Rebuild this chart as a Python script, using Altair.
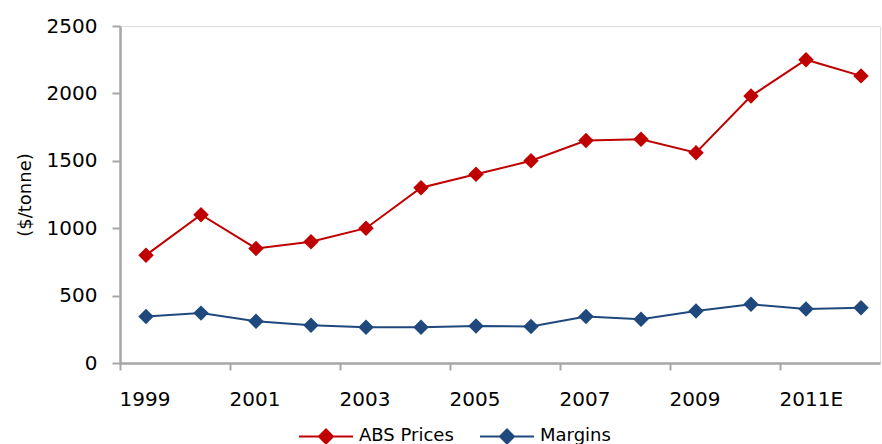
import json
import altair as alt
import pandas as pd

# Years on the category axis (14 points, the last two estimates)
years = ["1999", "2000", "2001", "2002", "2003", "2004", "2005",
         "2006", "2007", "2008", "2009", "2010", "2011E", "2012E"]
tick_labels = ["1999", "2001", "2003", "2005", "2007", "2009", "2011E"]

abs_prices = [800, 1100, 850, 900, 1000, 1300, 1400,
              1500, 1650, 1660, 1560, 1980, 2250, 2130]
margins = [345, 370, 310, 280, 265, 265, 275,
           270, 345, 325, 385, 435, 400, 410]

series_names = ["ABS Prices", "Margins"]
series_colors = ["#C00000", "#1F497D"]

rows = []
for i, y in enumerate(years):
    rows.append({"idx": i, "year": y, "series": series_names[0], "value": abs_prices[i]})
    rows.append({"idx": i, "year": y, "series": series_names[1], "value": margins[i]})
df = pd.DataFrame(rows)

W, H = 760, 337
STEP = 55.0                      # pixels per year
X_MIN = -26.0 / STEP             # first tick sits a little left of the first point
X_MAX = X_MIN + W / STEP
tick_values = [X_MIN + 2 * k for k in range(len(tick_labels))]
label_expr = f"{json.dumps(tick_labels)}[round((datum.value - ({X_MIN}))/2)]"

FONT = "DejaVu Sans"
AXIS_GREY = "#A6A6A6"

x_enc = alt.X(
    "idx:Q",
    scale=alt.Scale(domain=[X_MIN, X_MAX], nice=False, zero=False),
    axis=alt.Axis(
        values=tick_values, labelExpr=label_expr, title=None, grid=False,
        labelAlign="left", labelBaseline="top", labelPadding=19,
        labelFontSize=20, labelFont=FONT, labelColor="#000000", labelOffset=-1,
        domainColor=AXIS_GREY, domainWidth=2.5, tickColor=AXIS_GREY,
        tickWidth=2, tickSize=7, labelFlush=False, labelOverlap=False,
    ),
)
y_enc = alt.Y(
    "value:Q",
    scale=alt.Scale(domain=[0, 2500], nice=False),
    axis=alt.Axis(
        values=[0, 500, 1000, 1500, 2000, 2500], format="d",
        title="($/tonne)", grid=False,
        labelFontSize=20, labelFont=FONT, labelColor="#000000", labelPadding=15,
        titleFontSize=18, titleFont=FONT, titleFontWeight="normal",
        titleColor="#000000", titlePadding=12,
        domainColor=AXIS_GREY, domainWidth=2.5, tickColor=AXIS_GREY,
        tickWidth=2, tickSize=8,
    ),
)

# Legend symbol: a short line with a solid diamond, drawn from stroked nested diamonds
diamond_path = "M-1,0L1,0" + "".join(
    f"M-{r},0L0,-{r}L{r},0L0,{r}Z" for r in (0.26, 0.2, 0.14, 0.08, 0.03)
)
legend = alt.Legend(
    title=None, orient="none", direction="horizontal",
    legendX=178, legendY=382,
    symbolType=diamond_path,
    symbolSize=2916, symbolStrokeWidth=2,
    labelFontSize=18, labelFont=FONT, labelColor="#000000",
    labelOffset=5, columnPadding=22,
)

lines = alt.Chart(df).mark_line(strokeWidth=2).encode(
    x=x_enc, y=y_enc,
    stroke=alt.Stroke("series:N", scale=alt.Scale(domain=series_names, range=series_colors),
                      legend=legend),
    detail="series:N",
)
points = alt.Chart(df).mark_point(filled=True, shape="diamond", size=240, opacity=1).encode(
    x=x_enc, y=y_enc,
    fill=alt.Fill("series:N", scale=alt.Scale(domain=series_names, range=series_colors),
                  legend=None),
)

chart = alt.layer(lines, points).properties(
    width=W, height=H,
    autosize=alt.AutoSizeParams(type="none"),
    padding={"left": 120, "top": 26, "right": 2, "bottom": 81},
).configure_view(stroke=None).configure(background="#FFFFFF")

chart.save("out.html", embed_options={"renderer": "svg", "actions": False})
